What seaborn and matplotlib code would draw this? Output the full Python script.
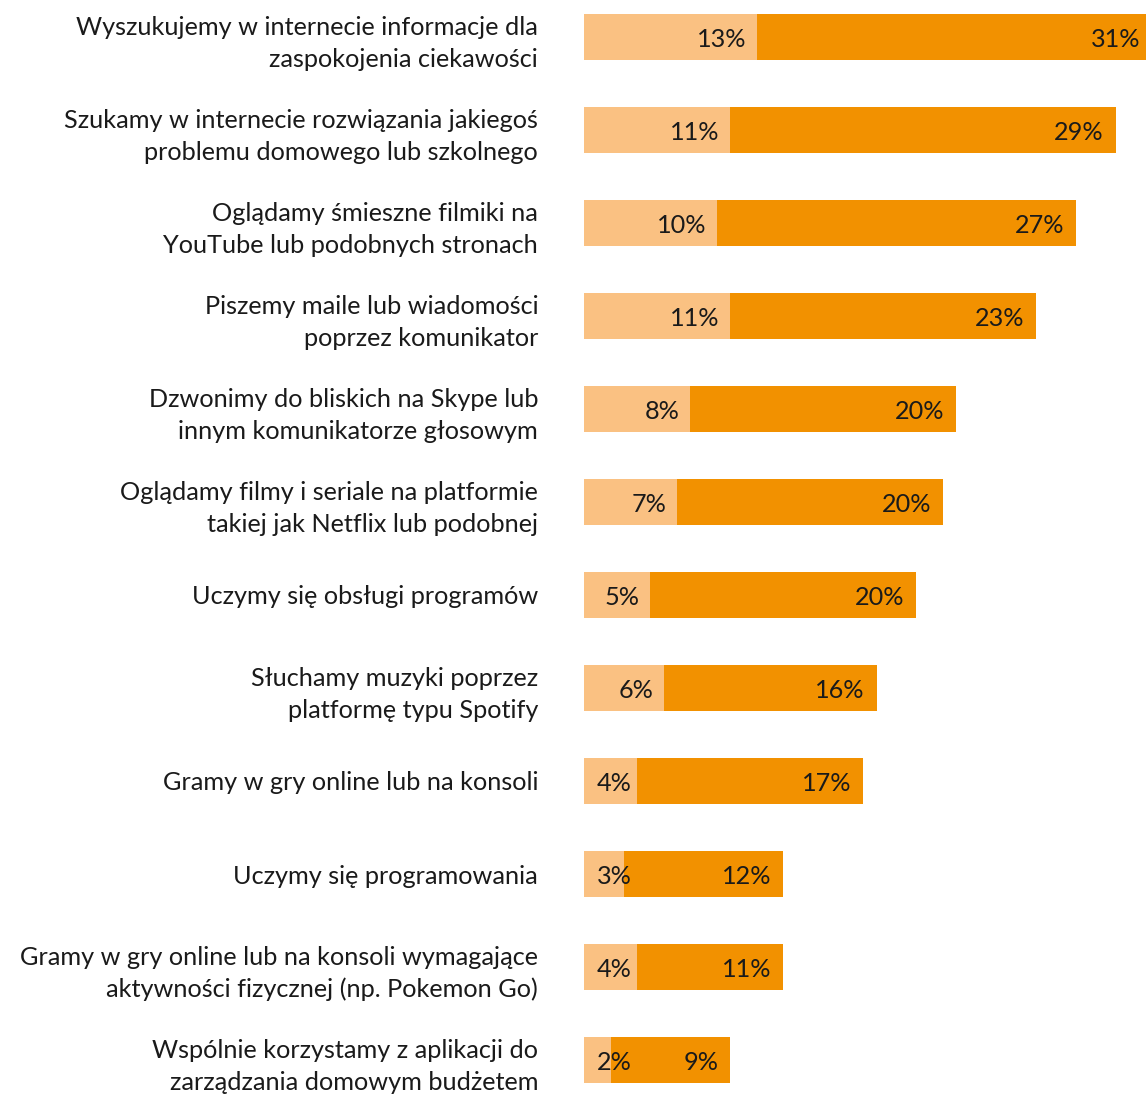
import matplotlib
matplotlib.use("Agg")
import matplotlib.pyplot as plt
import seaborn as sns
import pandas as pd

categories = [
    "Wyszukujemy w internecie informacje dla\nzaspokojenia ciekawości",
    "Szukamy w internecie rozwiązania jakiegoś\nproblemu domowego lub szkolnego",
    "Oglądamy śmieszne filmiki na\nYouTube lub podobnych stronach",
    "Piszemy maile lub wiadomości\npoprzez komunikator",
    "Dzwonimy do bliskich na Skype lub\ninnym komunikatorze głosowym",
    "Oglądamy filmy i seriale na platformie\ntakiej jak Netflix lub podobnej",
    "Uczymy się obsługi programów",
    "Słuchamy muzyki poprzez\nplatformę typu Spotify",
    "Gramy w gry online lub na konsoli",
    "Uczymy się programowania",
    "Gramy w gry online lub na konsoli wymagające\naktywności fizycznej (np. Pokemon Go)",
    "Wspólnie korzystamy z aplikacji do\nzarządzania domowym budżetem",
]
light_values = [13, 11, 10, 11, 8, 7, 5, 6, 4, 3, 4, 2]
dark_values = [31, 29, 27, 23, 20, 20, 20, 16, 17, 12, 11, 9]

LIGHT = "#FAC182"
DARK = "#F29100"
TEXT = "#1a1a1a"

df = pd.DataFrame({
    "category": categories,
    "light": light_values,
    "dark": dark_values,
})
df["total"] = df["light"] + df["dark"]

sns.set_theme(style="white")
plt.rcParams["font.family"] = ["Lato", "DejaVu Sans"]

fig = plt.figure(figsize=(11.46, 10.94), dpi=100)
ax = fig.add_axes([584 / 1146, 0.0, 1 - 584 / 1146, 1.0])

sns.barplot(data=df, y="category", x="total", color=DARK, width=0.5,
            saturation=1, orient="h", linewidth=0, ax=ax)
sns.barplot(data=df, y="category", x="light", color=LIGHT, width=0.5,
            saturation=1, orient="h", linewidth=0, ax=ax)

xmax = 42.26
ax.set_xlim(0, xmax)
ax.set_ylim(11 + 34 / 93, -37 / 93)

FS = 18.2
for i, row in df.iterrows():
    lx = max(row["light"] - 0.8, 3.6)
    ax.text(lx, i + 0.03, f"{row['light']}%", ha="right", va="center",
            fontsize=FS, color=TEXT)
    dx = min(row["total"] - 0.9, xmax - 0.45)
    ax.text(dx, i + 0.03, f"{row['dark']}%", ha="right", va="center",
            fontsize=FS, color=TEXT)

ax.set_xlabel("")
ax.set_ylabel("")
ax.set_xticks([])
ax.tick_params(axis="y", length=0, pad=33, labelsize=FS, labelcolor=TEXT)
for lab in ax.get_yticklabels():
    lab.set_multialignment("right")
    lab.set_linespacing(1.45)
sns.despine(ax=ax, left=True, bottom=True)

fig.savefig("out.png", dpi=100)
